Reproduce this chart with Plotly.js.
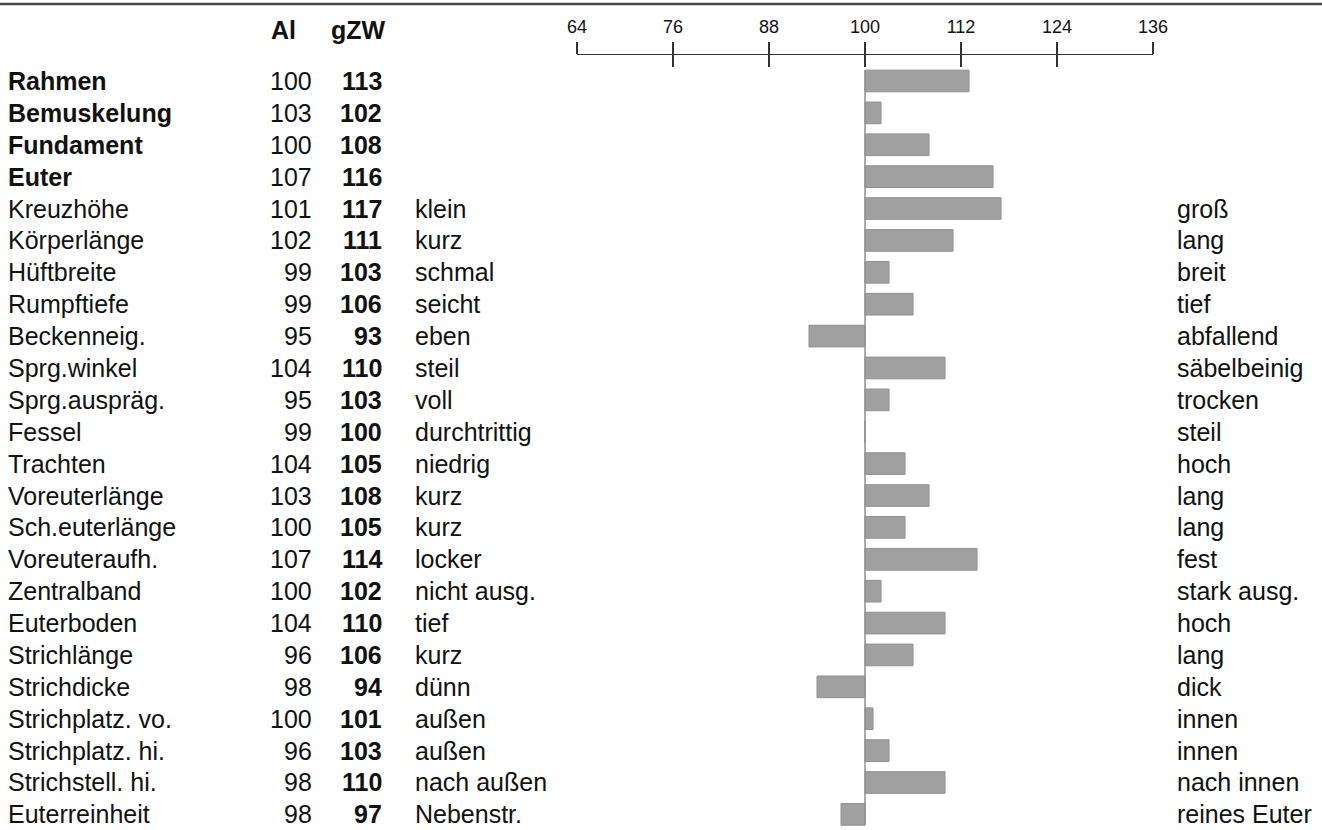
<!DOCTYPE html>
<html>
<head>
<meta charset="utf-8">
<script src="https://cdn.plot.ly/plotly-3.0.1.min.js"></script>
<style>
  html, body { margin: 0; padding: 0; background: #ffffff; }
  #chart { width: 1322px; height: 830px; }
</style>
</head>
<body>
<div id="chart"></div>
<script>
// ---- data ----
const traits = ["Rahmen","Bemuskelung","Fundament","Euter","Kreuzhöhe","Körperlänge","Hüftbreite","Rumpftiefe","Beckenneig.","Sprg.winkel","Sprg.auspräg.","Fessel","Trachten","Voreuterlänge","Sch.euterlänge","Voreuteraufh.","Zentralband","Euterboden","Strichlänge","Strichdicke","Strichplatz. vo.","Strichplatz. hi.","Strichstell. hi.","Euterreinheit"];
const boldCount = 4;
const aiValues  = [100,103,100,107,101,102, 99, 99, 95,104, 95, 99,104,103,100,107,100,104, 96, 98,100, 96, 98, 98];
const gzwValues = [113,102,108,116,117,111,103,106, 93,110,103,100,105,108,105,114,102,110,106, 94,101,103,110, 97];
const lowLabels  = ["","","","","klein","kurz","schmal","seicht","eben","steil","voll","durchtrittig","niedrig","kurz","kurz","locker","nicht ausg.","tief","kurz","dünn","außen","außen","nach außen","Nebenstr."];
const highLabels = ["","","","","groß","lang","breit","tief","abfallend","säbelbeinig","trocken","steil","hoch","lang","lang","fest","stark ausg.","hoch","lang","dick","innen","innen","nach innen","reines Euter"];
const tickValues = [64,76,88,100,112,124,136];
const headerAI = "Al";
const headerGZW = "gZW";
const BASE = 100;

// ---- layout helpers ----
const W = 1322, H = 830;
const M = {l: 577, r: 169, t: 55, b: 0};
const PW = W - M.l - M.r, PH = H - M.t - M.b;
const px = x => (x - M.l) / PW;          // pixel -> paper x
const py = y => (H - M.b - y) / PH;      // pixel -> paper y
const FONT = "Liberation Sans, Arial, Helvetica, sans-serif";
const FS = 25;

const idx = traits.map((_, i) => i);
const BAR_W = 0.68;

const barTrace = {
  type: "bar",
  orientation: "h",
  y: idx,
  x: gzwValues.map(v => v - BASE),
  base: gzwValues.map(() => BASE),
  width: BAR_W,
  marker: { color: "#a0a0a0", line: { color: "#909090", width: 1 } },
  hoverinfo: "skip",
  showlegend: false
};

const baseLine = {
  type: "scatter",
  mode: "lines",
  xaxis: "x2",
  x: [BASE, BASE],
  y: [idx[0] - BAR_W / 2, idx[idx.length - 1] + BAR_W / 2],
  line: { color: "#8f8f8f", width: 1.5 },
  hoverinfo: "skip",
  showlegend: false
};

const annotations = [];
traits.forEach((t, i) => {
  const bold = i < boldCount;
  annotations.push({
    xref: "paper", yref: "y", x: px(6), y: i, xanchor: "left", yanchor: "middle",
    text: bold ? "<b>" + t + "</b>" : t, showarrow: false,
    font: { family: FONT, size: FS, color: "#111" }
  });
  annotations.push({
    xref: "paper", yref: "y", x: px(314), y: i, xanchor: "right", yanchor: "middle",
    text: String(aiValues[i]), showarrow: false,
    font: { family: FONT, size: FS, color: "#111" }
  });
  annotations.push({
    xref: "paper", yref: "y", x: px(384), y: i, xanchor: "right", yanchor: "middle",
    text: "<b>" + gzwValues[i] + "</b>", showarrow: false,
    font: { family: FONT, size: FS, color: "#111" }
  });
  if (lowLabels[i]) annotations.push({
    xref: "paper", yref: "y", x: px(413), y: i, xanchor: "left", yanchor: "middle",
    text: lowLabels[i], showarrow: false,
    font: { family: FONT, size: FS, color: "#111" }
  });
  if (highLabels[i]) annotations.push({
    xref: "paper", yref: "y", x: px(1175), y: i, xanchor: "left", yanchor: "middle",
    text: highLabels[i], showarrow: false,
    font: { family: FONT, size: FS, color: "#111" }
  });
});
annotations.push({
  xref: "paper", yref: "paper", x: px(283), y: py(30), xanchor: "center", yanchor: "middle",
  text: "<b>" + headerAI + "</b>", showarrow: false,
  font: { family: FONT, size: FS, color: "#111" }
});
annotations.push({
  xref: "paper", yref: "paper", x: px(358), y: py(30), xanchor: "center", yanchor: "middle",
  text: "<b>" + headerGZW + "</b>", showarrow: false,
  font: { family: FONT, size: FS, color: "#111" }
});

const layout = {
  width: W, height: H,
  margin: M,
  paper_bgcolor: "#ffffff",
  plot_bgcolor: "rgba(0,0,0,0)",
  showlegend: false,
  font: { family: FONT, color: "#111" },
  xaxis: {
    range: [tickValues[0], tickValues[tickValues.length - 1]],
    side: "top", anchor: "y",
    tickmode: "array", tickvals: tickValues, ticktext: tickValues.map(String),
    ticks: "outside", ticklen: 12, tickwidth: 1.5, tickcolor: "#333",
    showline: true, linecolor: "#333", linewidth: 1.5,
    showgrid: false, zeroline: false,
    tickfont: { family: FONT, size: 18, color: "#111" },
    ticklabelstandoff: 1,
    fixedrange: true
  },
  xaxis2: {
    range: [tickValues[0], tickValues[tickValues.length - 1]],
    overlaying: "x", side: "top", anchor: "y",
    tickmode: "array", tickvals: tickValues,
    ticks: "inside", ticklen: 12, tickwidth: 1.5, tickcolor: "#333",
    showticklabels: false, showline: false, showgrid: false, zeroline: false,
    fixedrange: true
  },
  yaxis: {
    range: [23.49, -0.815],
    visible: false, showgrid: false, zeroline: false, fixedrange: true
  },
  annotations: annotations,
  shapes: [{
    type: "line", xref: "paper", yref: "paper",
    x0: px(0), x1: px(W), y0: py(4), y1: py(4),
    line: { color: "#4a4a4a", width: 2.5 }
  }]
};

Plotly.newPlot("chart", [barTrace, baseLine], layout, { displayModeBar: false, staticPlot: true });
</script>
</body>
</html>
